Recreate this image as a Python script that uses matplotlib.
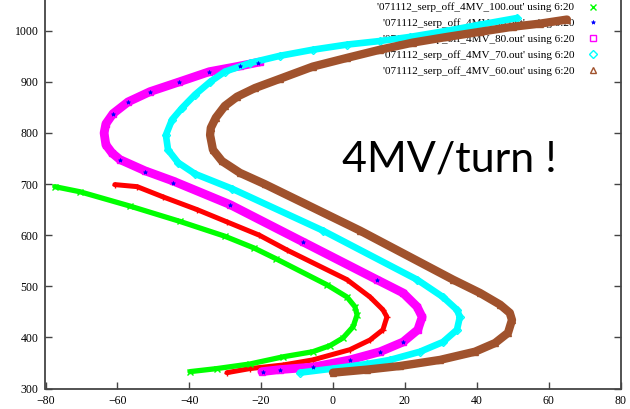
import matplotlib
matplotlib.use('Agg')
import matplotlib.pyplot as plt

# points, (x, y) along each band
red_x = [-60.7, -54.5, -47.3, -37.8, -29.5, -20.5, -12.8, 3.9, 10.3, 13.9, 15.0, 13.9, 10.3, 4.7, -5.6, -13.9, -23.1, -29.5]
red_y = [699, 695, 675, 650, 626, 600, 571, 513, 479, 454, 440, 415, 395, 376, 356, 346, 339, 331]

green_x = [-77.4, -70.4, -56.5, -42.6, -30.1, -22.0, -15.9, -1.7, 3.9, 6.1, 6.7, 5.6, 2.8, -0.8, -5.6,
           -13.9, -23.1, -32.3, -39.8]
green_y = [695, 685, 657, 627, 598, 575, 554, 503, 479, 460, 444, 421, 399, 384, 372,
           362, 348, 339, 333]

blue_x = [-21.0, -26.0, -34.4, -42.8, -50.9, -57.0, -61.2, -59.3, -52.3, -44.5, -28.7, -8.4, 12.2,
          19.5, 13.1, 4.7, -5.6, -14.8, -19.5]
blue_y = [937, 931, 920, 900, 881, 861, 838, 748, 724, 703, 660, 587, 513,
          391, 372, 356, 342, 337, 333]

magenta_x = [-20.3, -26.0, -34.4, -42.8, -50.9, -57.0, -61.2, -63.2, -63.7, -63.2, -61.5, -59.3, -52.3,
             -44.5, -28.7, -8.4, 12.2, 19.5, 23.4, 24.8, 23.6, 19.5, 13.1, 4.7, -5.6, -14.8, -19.8]
magenta_y = [939, 931, 920, 900, 881, 861, 838, 818, 800, 777, 761, 748, 726,
             706, 660, 587, 513, 487, 460, 440, 415, 391, 372, 356, 342, 337, 333]

cyan_x = [51.2, 40.9, 31.7, 21.4, 13.1, 3.9, -5.6, -14.8, -23.1, -30.1, -34.2, -38.4, -42.0, -44.8,
          -46.5, -45.9, -43.1, -38.4, -28.1, -2.8, 23.4, 30.6, 34.5, 35.3, 34.5, 30.6, 24.2, 15.9,
          9.5, 0.0, -9.2]
cyan_y = [1025, 1012, 1000, 988, 980, 973, 963, 951, 937, 920, 900, 875, 849, 826,
          796, 767, 742, 720, 691, 609, 513, 479, 454, 440, 415, 391, 372, 356,
          348, 339, 331]

brown_x = [65.1, 57.6, 50.1, 40.9, 31.7, 22.3, 13.1, 3.9, -5.6, -14.8, -21.7, -26.7, -30.1, -32.6,
           -34.0, -34.2, -33.4, -30.9, -25.9, -19.0, 7.5, 33.4, 40.9, 46.5, 49.2, 49.8, 48.7, 45.1,
           39.5, 29.8, 18.6, 9.5, 0.0]
brown_y = [1022, 1014, 1008, 998, 988, 977, 963, 947, 930, 906, 888, 871, 853, 830,
           810, 796, 767, 745, 722, 700, 609, 513, 487, 464, 448, 434, 409, 389,
           372, 356, 344, 337, 331]

labels = ["'071112_serp_off_4MV_110.out' using 6:20",
          "'071112_serp_off_4MV_100.out' using 6:20",
          "'071112_serp_off_4MV_90.out' using 6:20",
          "'071112_serp_off_4MV_80.out' using 6:20",
          "'071112_serp_off_4MV_70.out' using 6:20",
          "'071112_serp_off_4MV_60.out' using 6:20"]

series = [
    (red_x, red_y, '#ff0000', '+', 3.6, 5),
    (green_x, green_y, '#00ff00', 'x', 3.8, 5),
    (blue_x, blue_y, '#0000ff', '*', 0, 3),
    (magenta_x, magenta_y, '#ff00ff', 's', 6.3, 5),
    (cyan_x, cyan_y, '#00ffff', 'D', 4.8, 4),
    (brown_x, brown_y, '#a0522d', '^', 6.0, 5),
]

fig = plt.figure(figsize=(6.3, 4.09), dpi=100)
ax = fig.add_axes([45.5 / 630, 20.5 / 409, 575 / 630, 403.7 / 409])

handles = []
for i, (xs, ys, color, marker, band, ms) in enumerate(series):
    z = 2 + i * 0.1
    if band > 0:
        ax.plot(xs, ys, '-', color=color, lw=band, solid_capstyle='round',
                solid_joinstyle='round', zorder=z)
    if marker == '*':
        # blue sits on top of the magenta band, only small dots show through
        h, = ax.plot(xs, ys, linestyle='none', marker=marker, color=color, ms=ms,
                     mew=0.5, label=labels[i], zorder=2.45)
    else:
        h, = ax.plot(xs, ys, linestyle='none', marker=marker, color=color, ms=ms,
                     mfc='none', mew=1, label=labels[i], zorder=z)
    handles.append(h)

ax.set_xlim(-80, 80)
ax.set_ylim(300, 1090)
ax.set_xticks(range(-80, 81, 20))
ax.set_yticks(range(300, 1001, 100))

for side in ['left', 'right', 'bottom']:
    ax.spines[side].set_color('#444444')
    ax.spines[side].set_linewidth(1.3)
ax.spines['top'].set_visible(False)
ax.tick_params(direction='in', length=5, width=1, color='#444444', right=True, top=False,
               labelsize=8.5, labelcolor='black', pad=5)
for lab in ax.get_xticklabels() + ax.get_yticklabels():
    lab.set_family('Liberation Serif')

leg = ax.legend(handles=handles, loc='upper right', bbox_to_anchor=(0.950, 1.032),
                bbox_transform=fig.transFigure, frameon=False, markerfirst=False,
                prop={'family': 'Liberation Serif', 'size': 8}, handlelength=1.0,
                handletextpad=1.2, labelspacing=0.54, borderpad=0, borderaxespad=0)
leg.set_zorder(1)

ax.text(2.5, 724, '4MV/turn !', family='Lato', fontsize=31, color='black',
        ha='left', va='baseline')

fig.savefig('out.png', dpi=100)
